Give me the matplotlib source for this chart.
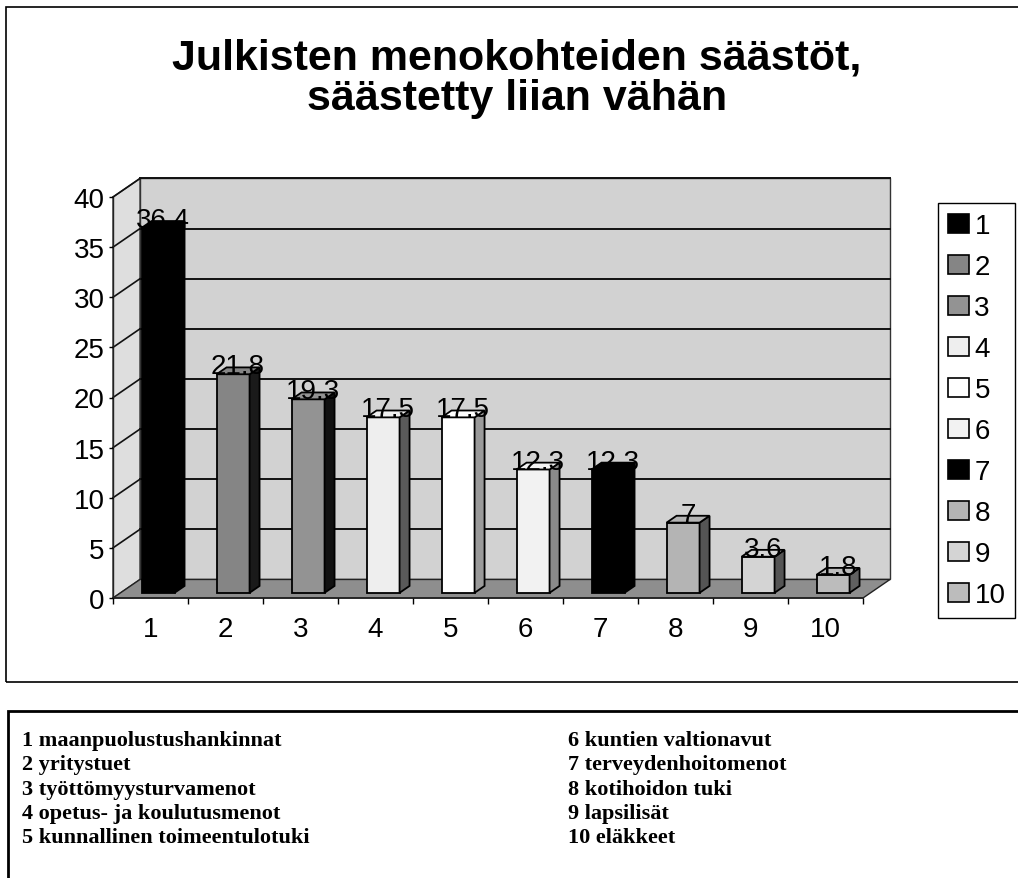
import matplotlib.pyplot as plt
from matplotlib.patches import Polygon, Rectangle, Patch

# data
categories = ["1", "2", "3", "4", "5", "6", "7", "8", "9", "10"]
values = [36.4, 21.8, 19.3, 17.5, 17.5, 12.3, 12.3, 7, 3.6, 1.8]
value_labels = ["36.4", "21.8", "19.3", "17.5", "17.5", "12.3", "12.3", "7", "3.6", "1.8"]
front_colors = ["#000000", "#858585", "#939393", "#eeeeee", "#ffffff",
                "#f2f2f2", "#000000", "#b4b4b4", "#d4d4d4", "#bcbcbc"]
side_colors = ["#000000", "#1a1a1a", "#111111", "#5a5a5a", "#9a9a9a",
               "#8a8a8a", "#000000", "#555555", "#555555", "#606060"]
yticks = [0, 5, 10, 15, 20, 25, 30, 35, 40]
title_lines = ["Julkisten menokohteiden säästöt,", "säästetty liian vähän"]
notes_left = ["1 maanpuolustushankinnat", "2 yritystuet", "3 työttömyysturvamenot",
              "4 opetus- ja koulutusmenot", "5 kunnallinen toimeentulotuki"]
notes_right = ["6 kuntien valtionavut", "7 terveydenhoitomenot", "8 kotihoidon tuki",
               "9 lapsilisät", "10 eläkkeet"]

W, H = 1018, 879
fig = plt.figure(figsize=(W / 100, H / 100), dpi=100)
sans = "Liberation Sans"
serif = "Liberation Serif"


def px(x0, y0, x1, y1):
    # pixel box (top-left origin) -> figure fraction rect
    return [x0 / W, 1 - y1 / H, (x1 - x0) / W, (y1 - y0) / H]


# outer frames
fig.patches.append(Rectangle((6 / W, 1 - 683 / H), 1.1, (683 - 8) / H,
                             transform=fig.transFigure, fill=False,
                             edgecolor="black", lw=1.2))
fig.patches.append(Rectangle((8 / W, -0.1), 1.1, 0.1 + 1 - 712 / H,
                             transform=fig.transFigure, fill=False,
                             edgecolor="black", lw=2))

for i, line in enumerate(title_lines):
    fig.text(517 / W, 1 - (70 + 40 * i) / H, line, ha="center", va="baseline",
             fontsize=31, fontweight="bold", family=sans)

# 3d-ish axes; front face of the box maps exactly to the axes rect
ax = fig.add_axes(px(113, 198, 863, 599))
ax.set_xlim(0.5, 10.5)
ax.set_ylim(0, 40)
for s in ax.spines.values():
    s.set_visible(False)
ax.patch.set_visible(False)

dx, dy = 0.36, 1.85
left, right = 0.5, 10.5
top = yticks[-1]

wall = "#d2d2d2"
ax.add_patch(Polygon([(left + dx, dy), (right + dx, dy), (right + dx, top + dy),
                      (left + dx, top + dy)], closed=True, facecolor=wall,
                     edgecolor="#333333", lw=1, zorder=0, clip_on=False))
ax.add_patch(Polygon([(left, 0), (left + dx, dy), (left + dx, top + dy), (left, top)],
                     closed=True, facecolor="#dedede", edgecolor="#333333", lw=1,
                     zorder=0, clip_on=False))
ax.add_patch(Polygon([(left, 0), (right, 0), (right + dx, dy), (left + dx, dy)],
                     closed=True, facecolor="#8e8e8e", edgecolor="#222222", lw=1,
                     zorder=1, clip_on=False))
for t in yticks[1:]:
    ax.plot([left + dx, right + dx], [t + dy, t + dy], color="#111111", lw=1.4,
            zorder=0.5, clip_on=False)
    ax.plot([left, left + dx], [t, t + dy], color="#111111", lw=1.2,
            zorder=0.5, clip_on=False)
ax.plot([left, left], [0, top], color="#222222", lw=1, zorder=1, clip_on=False)
ax.plot([left, right], [0, 0], color="#222222", lw=1.2, zorder=1, clip_on=False)

# bars
pos = list(range(1, len(values) + 1))
w = 0.44
f0 = 0.28
d = 0.37
ox, oy = f0 * dx, f0 * dy
ax.bar([p + ox for p in pos], values, width=w, bottom=oy, color=front_colors,
       edgecolor="black", lw=1.3, zorder=3)
for p, v, sc, fc, lab in zip(pos, values, side_colors, front_colors, value_labels):
    x0 = p + ox - w / 2
    x1 = p + ox + w / 2
    ax.add_patch(Polygon([(x1, oy), (x1 + d * dx, oy + d * dy),
                          (x1 + d * dx, oy + v + d * dy), (x1, oy + v)],
                         closed=True, facecolor=sc, edgecolor="black", lw=1.3,
                         zorder=3, clip_on=False))
    ax.add_patch(Polygon([(x0, oy + v), (x1, oy + v), (x1 + d * dx, oy + v + d * dy),
                          (x0 + d * dx, oy + v + d * dy)], closed=True,
                         facecolor=fc, edgecolor="black", lw=1.3, zorder=3,
                         clip_on=False))
    ax.text(p + ox + d * dx / 2, oy + v - 0.5, lab, ha="center", va="bottom",
            fontsize=20, family=sans, zorder=4)

ax.set_yticks(yticks)
ax.set_yticklabels([str(t) for t in yticks], fontsize=20, family=sans)
ax.set_xticks(pos)
ax.set_xticklabels(categories, fontsize=20, family=sans)
ax.set_xticks([p + 0.5 for p in range(0, len(values) + 1)], minor=True)
ax.tick_params(axis="x", which="major", length=0, pad=13)
ax.tick_params(axis="x", which="minor", length=4, width=1, direction="out")
ax.tick_params(axis="y", length=3, width=1, pad=3)

# legend
handles = [Patch(facecolor=c, edgecolor="black", lw=1.2) for c in front_colors]
leg = fig.legend(handles, categories, loc="upper left",
                 bbox_to_anchor=(938 / W, 1 - 204 / H),
                 prop={"family": sans, "size": 20}, handlelength=0.75,
                 handleheight=0.65, handletextpad=0.2, labelspacing=0.54,
                 borderpad=0.36, borderaxespad=0, fancybox=False, framealpha=1)
leg.get_frame().set_edgecolor("black")
leg.get_frame().set_linewidth(1)

for i, (a, b) in enumerate(zip(notes_left, notes_right)):
    y = 1 - (741 + 24.3 * i) / H
    fig.text(22 / W, y, a, ha="left", va="center", fontsize=16,
             fontweight="bold", family=serif)
    fig.text(568 / W, y, b, ha="left", va="center", fontsize=16,
             fontweight="bold", family=serif)

fig.savefig("out.png", dpi=100)
